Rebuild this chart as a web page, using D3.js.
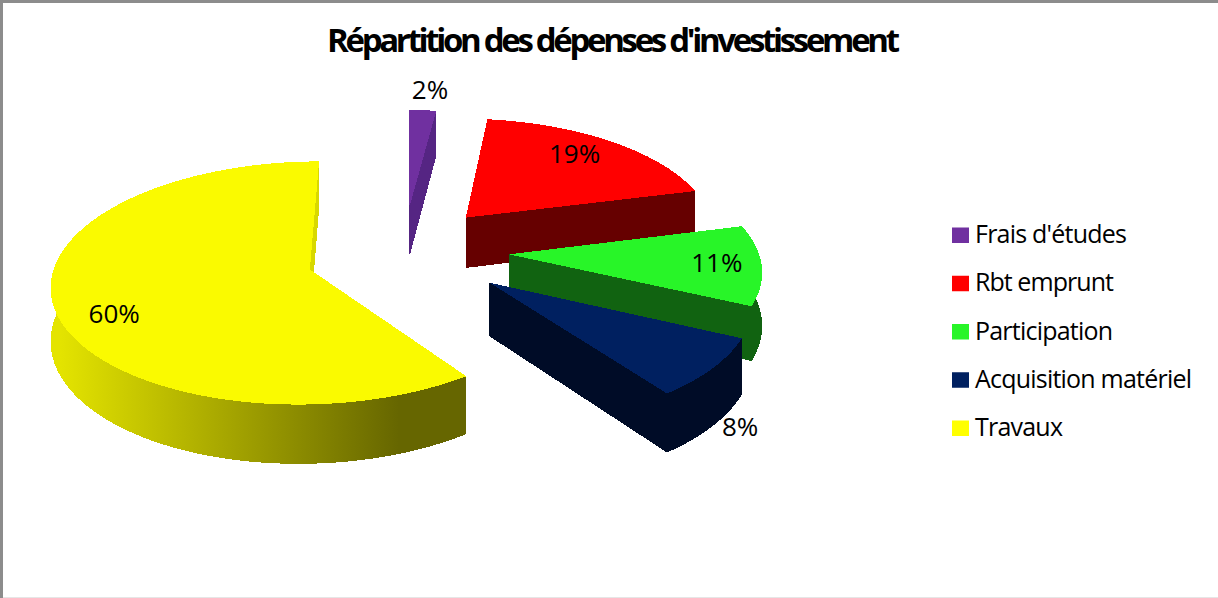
<!DOCTYPE html>
<html><head><meta charset="utf-8">
<script src="https://cdn.jsdelivr.net/npm/d3@7"></script>
<style>html,body{margin:0;padding:0;background:#fff;overflow:hidden}svg{display:block}text{font-family:"Open Sans","Noto Sans",sans-serif;fill:#000}</style>
</head><body><svg id="c" width="1218" height="598"></svg>
<script>
const title = "Répartition des dépenses d'investissement";
const categories = ["Frais d'études","Rbt emprunt","Participation","Acquisition matériel","Travaux"];
const values = [2,19,11,8,60];
const labels = ["2%","19%","11%","8%","60%"];
const topColors = ["#7030a0","#ff0000","#28f528","#002060","#fafa00"];
const wallColors = ["#552583","#660000","#116311","#000c27","url(#wallY)"];
const legendColors = ["#7030a0","#ff0000","#28f528","#002060","#ffff00"];
const legendWidths = [152,139,138,217,88];
// explode distance (pie radii), per-slice drawing adjustments, label polar position (deg, radii)
const explode = [0.43,0.40,0.43,0.43,0.378];
const radiusScale = [1,1,0.985,1,1];
const nudgeX = [3,1,0,3,2];
const nudgeY = [0,-3,-5,-5,1];
const labelAngle = [5.2,37.3,91.6,140.2,243.1];
const labelRadius = [1.25,0.822,0.816,1.29,0.797];
const drawOrder = [4,0,1,2,3];

const cx=400, cy=254.6, A=253, B=117, P=0.11, H=52;
const svg = d3.select("#c");
const defs = svg.append("defs");
const g = defs.append("linearGradient").attr("id","wallY").attr("gradientUnits","userSpaceOnUse")
  .attr("x1",57).attr("x2",397).attr("y1",0).attr("y2",0);
g.append("stop").attr("offset",0).attr("stop-color","#e4e400");
g.append("stop").attr("offset",1).attr("stop-color","#666600");

// frame
svg.append("rect").attr("x",0).attr("y",0).attr("width",1218).attr("height",3).attr("fill","#8c8c8c");
svg.append("rect").attr("x",0).attr("y",0).attr("width",3).attr("height",598).attr("fill","#8c8c8c");
svg.append("rect").attr("x",3).attr("y",597).attr("width",1215).attr("height",1).attr("fill","#e6e6e6");

function project(ang, r, e, mid, drop){
  const X=e*Math.sin(mid)+r*Math.sin(ang), Y=e*Math.cos(mid)+r*Math.cos(ang);
  const s=1/(1+P*Y);
  return [cx+A*X*s, cy-B*Y*s+(drop?H*s:0)];
}
const line=d3.line();
const arcs=d3.pie().sort(null).value(d=>d)(values);

drawOrder.forEach(i=>{
  const a=arcs[i], e=explode[i], mid=(a.startAngle+a.endAngle)/2, R=radiusScale[i];
  const n=Math.max(8,Math.round((a.endAngle-a.startAngle)*60));
  const angs=d3.range(n+1).map(k=>a.startAngle+(a.endAngle-a.startAngle)*k/n);
  const apex=project(0,0,e,mid,false), apexD=project(0,0,e,mid,true);
  const topArc=angs.map(t=>project(t,R,e,mid,false));
  const lowArc=angs.map(t=>project(t,R,e,mid,true));
  const layer=svg.append("g").attr("transform",`translate(${nudgeX[i]},${nudgeY[i]})`).attr("shape-rendering","crispEdges");
  const edge=t=>[apex,project(t,R,e,mid,false),project(t,R,e,mid,true),apexD];
  // first radial wall
  layer.append("path").attr("d",line(edge(a.startAngle))+"Z").attr("fill",i===4?"#666600":wallColors[i]);
  // outer wall
  layer.append("path").attr("d",line(topArc.concat(lowArc.slice().reverse()))+"Z").attr("fill",wallColors[i]);
  // second radial wall
  layer.append("path").attr("d",line(edge(a.endAngle))+"Z").attr("fill",i===4?"#d8d800":wallColors[i]);
  // top face
  layer.append("path").attr("d",line([apex].concat(topArc))+"Z").attr("fill",topColors[i]);
});

// data labels
arcs.forEach((a,i)=>{
  const mid=(a.startAngle+a.endAngle)/2;
  const p=project(labelAngle[i]*Math.PI/180,labelRadius[i],explode[i],mid,false);
  svg.append("text").attr("x",p[0]).attr("y",p[1]+9.5).attr("text-anchor","middle")
    .attr("font-size",26).text(labels[i]);
});

// title
svg.append("text").attr("x",327).attr("y",52).attr("font-size",33).attr("font-weight",700)
  .attr("textLength",573).attr("lengthAdjust","spacing").text(title);

// legend
const rowY=d3.scalePoint().domain(categories).range([243,436]);
categories.forEach((c,i)=>{
  svg.append("rect").attr("x",952).attr("y",rowY(c)-15.5).attr("width",17).attr("height",15.5).attr("fill",legendColors[i]);
  svg.append("text").attr("x",975).attr("y",rowY(c)).attr("font-size",25)
    .attr("textLength",legendWidths[i]).attr("lengthAdjust","spacing").text(c);
});
</script></body></html>
